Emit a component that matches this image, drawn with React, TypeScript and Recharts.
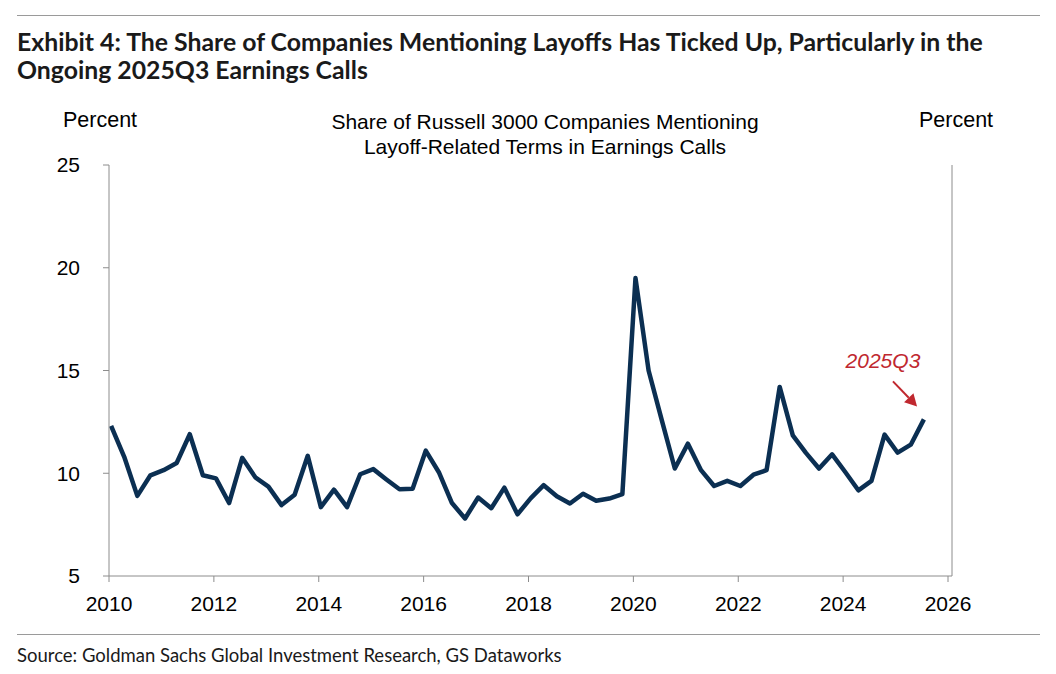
import { Line, LineChart, ReferenceLine, XAxis, YAxis } from "recharts";

// quarterly share (%) of Russell 3000 companies mentioning layoff terms, 2010Q1 - 2025Q3
const startYear = 2010;
const layoffShare = [
  12.3, 10.8, 8.9, 9.9, 10.15, 10.5, 11.9, 9.9,
  9.75, 8.55, 10.75, 9.8, 9.35, 8.45, 8.95, 10.85,
  8.35, 9.2, 8.35, 9.95, 10.2, 9.7, 9.22, 9.25,
  11.1, 10.05, 8.55, 7.8, 8.82, 8.3, 9.3, 8.0,
  8.78, 9.42, 8.88, 8.53, 9.0, 8.66, 8.77, 8.98,
  19.5, 15.0, 12.6, 10.23, 11.44, 10.15, 9.38, 9.63,
  9.38, 9.93, 10.15, 14.2, 11.84, 10.99, 10.23, 10.92,
  10.06, 9.17, 9.63, 11.88, 11.0, 11.39, 12.62,
];
const quarters = layoffShare.map((_, i) => `${startYear + Math.floor(i / 4)}Q${(i % 4) + 1}`);
const yearTicks = [2010, 2012, 2014, 2016, 2018, 2020, 2022, 2024, 2026];
const pctTicks = [5, 10, 15, 20, 25];

const chartData = quarters.map((q, i) => ({
  quarter: q,
  x: Number(q.slice(0, 4)) + (Number(q.slice(5)) - 1) * 0.25 + 0.04,
  share: layoffShare[i],
}));

const sans = "'Liberation Sans', Arial, sans-serif";
const heading = "Lato, 'Open Sans', sans-serif";
const axisGray = "#8c8c8c";
const navy = "#0b2f52";
const red = "#c0282f";

const tickStyle = { fill: "#000", fontSize: 21, fontFamily: sans };

function Arrow(props: any) {
  const { x1, y1, x2, y2 } = props;
  const ang = Math.atan2(y2 - y1, x2 - x1);
  const len = 12;
  const w = 6.5;
  const bx = x2 - len * Math.cos(ang);
  const by = y2 - len * Math.sin(ang);
  const px = -Math.sin(ang) * w;
  const py = Math.cos(ang) * w;
  return (
    <g>
      <line x1={x1} y1={y1} x2={bx} y2={by} stroke={red} strokeWidth={2} />
      <polygon points={`${x2},${y2} ${bx + px},${by + py} ${bx - px},${by - py}`} fill={red} />
      <text x={x1 - 10} y={y1 - 13} textAnchor="middle" fill={red} fontSize={21} fontStyle="italic" fontFamily={sans}>
        2025Q3
      </text>
    </g>
  );
}

export default function App() {
  return (
    <div style={{ position: "absolute", left: 0, top: 0, width: 1056, height: 674, background: "#fff" }}>
      <div style={{ position: "absolute", left: 17, top: 15, width: 1023, borderTop: "1.5px solid #9a9a9a" }} />
      <div
        style={{
          position: "absolute",
          left: 17,
          top: 28,
          fontFamily: heading,
          fontWeight: 700,
          fontSize: 24.8,
          lineHeight: "28px",
          color: "#1a1a1a",
          whiteSpace: "nowrap",
        }}
      >
        Exhibit 4: The Share of Companies Mentioning Layoffs Has Ticked Up, Particularly in the
        <br />
        Ongoing 2025Q3 Earnings Calls
      </div>
      <div style={{ position: "absolute", left: 63, top: 108, fontFamily: sans, fontSize: 21.5, color: "#000" }}>Percent</div>
      <div style={{ position: "absolute", left: 919, top: 108, fontFamily: sans, fontSize: 21.5, color: "#000" }}>Percent</div>
      <div
        style={{
          position: "absolute",
          left: 295,
          width: 500,
          top: 109,
          textAlign: "center",
          fontFamily: sans,
          fontSize: 21,
          lineHeight: "25px",
          color: "#000",
          whiteSpace: "nowrap",
        }}
      >
        Share of Russell 3000 Companies Mentioning
        <br />
        Layoff-Related Terms in Earnings Calls
      </div>

      <LineChart width={1056} height={674} data={chartData} margin={{ top: 165, right: 24, bottom: 58, left: 29 }}>
        <XAxis
          dataKey="x"
          type="number"
          domain={[2010, 2026.076]}
          ticks={yearTicks}
          interval={0}
          height={40}
          stroke={axisGray}
          tickSize={6}
          tickMargin={14}
          tick={tickStyle}
        />
        <YAxis
          yAxisId="left"
          domain={[5, 25]}
          ticks={pctTicks}
          width={80}
          stroke={axisGray}
          tickSize={6}
          tickMargin={23}
          tick={tickStyle}
        />
        <YAxis
          yAxisId="right"
          orientation="right"
          domain={[5, 25]}
          ticks={pctTicks}
          width={80}
          stroke={axisGray}
          tickSize={6}
          tickMargin={14}
          tick={tickStyle}
        />
        <Line
          yAxisId="left"
          type="linear"
          dataKey="share"
          stroke={navy}
          strokeWidth={4.5}
          strokeLinejoin="round"
          dot={false}
          isAnimationActive={false}
        />
        <ReferenceLine
          yAxisId="left"
          segment={[
            { x: 2024.95, y: 14.47 },
            { x: 2025.41, y: 13.25 },
          ]}
          shape={Arrow}
        />
      </LineChart>

      <div style={{ position: "absolute", left: 17, top: 634, width: 1023, borderTop: "1.5px solid #9a9a9a" }} />
      <div style={{ position: "absolute", left: 17, top: 644, fontFamily: heading, fontSize: 18.5, color: "#1a1a1a" }}>
        Source: Goldman Sachs Global Investment Research, GS Dataworks
      </div>
    </div>
  );
}
